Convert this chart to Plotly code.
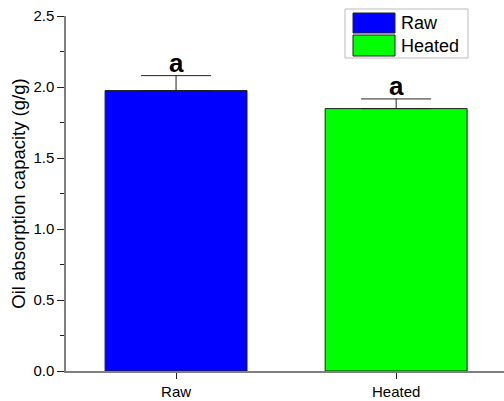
import plotly.graph_objects as go

categories = ["Raw", "Heated"]
means = [1.975, 1.848]
errors = [0.105, 0.068]
letters = ["a", "a"]
colors = ["#0000ff", "#00ff00"]

W, H = 504, 401
L, R, T, B = 66, 0, 16, 30
pw, ph = W - L - R, H - T - B

def px(x):
    return (x - L) / pw

def py(y):
    return (H - B - y) / ph

FONT = "Liberation Sans"

fig = go.Figure()
fig.add_trace(go.Bar(
    x=list(range(len(categories))), y=means,
    marker=dict(color=colors, line=dict(color="#222222", width=1)),
    width=0.645,
    error_y=dict(type="data", array=errors, arrayminus=[0] * len(errors),
                 symmetric=False, visible=True,
                 color="#222222", thickness=1, width=35),
    showlegend=False,
))

for i, (m, e, t) in enumerate(zip(means, errors, letters)):
    fig.add_annotation(x=i, y=m + e, text=f"<b>{t}</b>", showarrow=False,
                       yanchor="bottom", yshift=-4,
                       font=dict(family=FONT, size=26, color="black"))

# legend box
shapes = [dict(type="rect", xref="paper", yref="paper",
               x0=px(345), x1=px(468), y0=py(58), y1=py(9),
               line=dict(color="#bbbbbb", width=1), fillcolor="white", layer="above")]
legend_rows = [(13, 33), (35, 56)]
for (y0, y1), c, name in zip(legend_rows, colors, categories):
    shapes.append(dict(type="rect", xref="paper", yref="paper",
                       x0=px(353), x1=px(395), y0=py(y1), y1=py(y0),
                       line=dict(color="#222222", width=1), fillcolor=c, layer="above"))
    fig.add_annotation(xref="paper", yref="paper", x=px(399), y=py((y0 + y1) / 2),
                       text=name, showarrow=False, xanchor="left", yanchor="middle",
                       font=dict(family=FONT, size=18, color="black"))

fig.update_layout(
    width=W, height=H,
    margin=dict(l=L, r=R, t=T, b=B, pad=0, autoexpand=False),
    plot_bgcolor="white", paper_bgcolor="white",
    shapes=shapes,
    font=dict(family=FONT, color="black"),
    xaxis=dict(range=[-0.5, 1.49], tickvals=list(range(len(categories))),
               ticktext=categories, showgrid=False, zeroline=False,
               automargin=False, ticklabeloverflow="allow",
               showline=True, linecolor="#7f7f7f", linewidth=1.5,
               ticks="outside", ticklen=6, tickcolor="#222222", tickwidth=1,
               tickfont=dict(size=15, family=FONT, color="black")),
    yaxis=dict(range=[0, 2.5], dtick=0.5, tickformat=".1f",
               showgrid=False, zeroline=False, automargin=False,
               ticklabeloverflow="allow",
               showline=True, linecolor="#7f7f7f", linewidth=1.5,
               ticks="outside", ticklen=7, tickcolor="#222222", tickwidth=1,
               minor=dict(dtick=0.25, ticks="outside", ticklen=4,
                          tickcolor="#222222", tickwidth=1, showgrid=False),
               tickfont=dict(size=15, family=FONT, color="black"),
               title=dict(text="Oil absorption capacity (g/g)", standoff=3,
                          font=dict(size=18.5, family=FONT, color="black"))),
)

fig.write_html(
    "out.html",
    config={"displayModeBar": False},
    post_script="document.body.style.margin='0';document.body.style.overflow='hidden';",
)
